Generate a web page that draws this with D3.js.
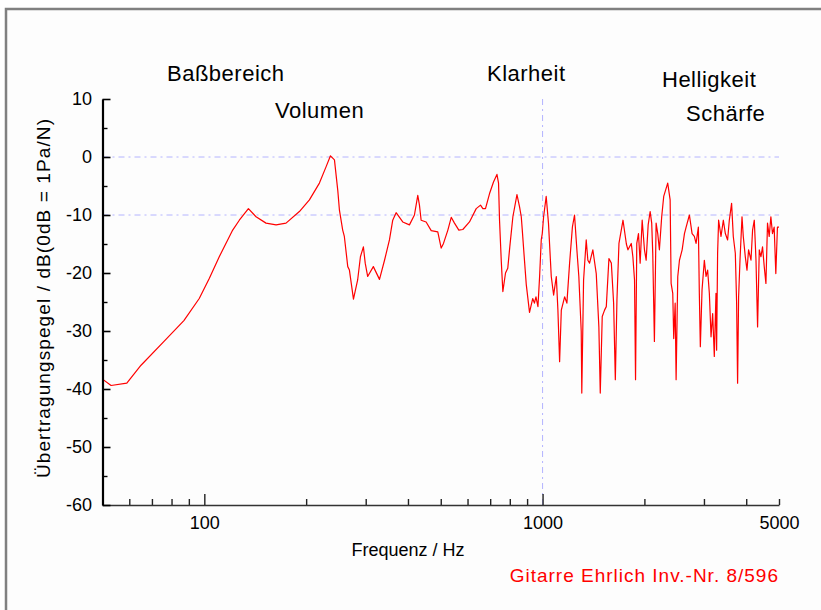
<!DOCTYPE html>
<html>
<head>
<meta charset="utf-8">
<script src="https://cdn.jsdelivr.net/npm/d3@7"></script>
<style>
	html,body{margin:0;background:#fff;overflow:hidden}
	svg{display:block}
	svg text{font-family:"Liberation Sans",Arial,Helvetica,sans-serif;fill:#000}
</style>
</head>
<body>
<div id="chart"></div>
<script>
// frequency response (Hz / dB)
var freqs = [
	50,53,59,65,76,87,96.6,103.5,110.7,121.3,
	126.9,135,142.2,152.2,163,174.4,191,204.5,218.9,229,
	236,242.5,248,250.8,256.5,259.4,265.5,268.5,276,284,
	289.4,295.3,299,304,316,329.5,341,352.6,360.6,369,
	386,404,418,427.6,432.5,437.5,452.6,468.6,490,501.5,
	509.4,524.8,537,549,565.5,581,608,636.5,655.5,666,
	678,697,716,733,741,746,755,763,777,789,
	800,817,840,855,865,871,882,895,915,935,
	946,956,969,980,991,998,1007,1025,1041,1061,
	1078,1098,1110,1123,1136,1162,1180,1202,1225,1243,
	1263,1280,1301,1306,1322,1346,1361,1377,1408,1441,
	1467,1481,1501,1525,1543,1571,1597,1622,1641,1659,
	1682,1729,1769,1788,1829,1849,1870,1883,1899,1921,
	1943,1970,2001,2024,2052,2080,2102,2117,2141,2166,
	2190,2215,2250,2281,2344,2383,2399,2426,2442,2466,
	2482,2510,2539,2586,2627,2657,2717,2767,2810,2843,
	2888,2907,2927,2961,3008,3043,3076,3112,3148,3183,
	3219,3256,3270,3292,3315,3369,3423,3470,3524,3565,
	3621,3663,3714,3747,3772,3798,3834,3887,3921,3975,
	4021,4065,4132,4177,4226,4275,4322,4372,4422,4470,
	4522,4574,4624,4677,4731,4783,4838,4893,4947,5000
]
var levels = [
	-38.3,-39.4,-39.0,-35.9,-31.8,-28.2,-24.4,-20.9,-17.2,-12.6,
	-10.9,-8.9,-10.3,-11.4,-11.7,-11.4,-9.4,-7.4,-4.5,-1.7,
	0.2,-0.5,-5.7,-9.1,-12.6,-13.7,-18.9,-19.5,-24.5,-21.2,
	-17.2,-15.5,-18.3,-20.6,-18.9,-21.1,-17.8,-14.3,-10.9,-9.6,
	-11.2,-11.7,-10.0,-6.6,-8.3,-10.9,-11.2,-12.7,-12.9,-15.7,
	-14.9,-12.6,-10.4,-11.4,-12.6,-12.5,-11.2,-8.9,-8.3,-8.9,
	-8.9,-6.3,-4.3,-3.0,-4.5,-10.9,-18.0,-23.2,-20.0,-19.2,
	-15.5,-10.3,-6.5,-8.6,-10.3,-12.6,-17.0,-22.0,-26.8,-24.4,
	-25.2,-24.1,-25.8,-20.6,-14.3,-13.2,-10.3,-6.8,-11.4,-20.6,
	-23.8,-20.6,-26.4,-35.3,-26.4,-24.1,-25.2,-18.3,-12.1,-10.0,
	-16.0,-20.6,-30.1,-40.7,-21.2,-14.3,-17.8,-18.3,-16.0,-20.1,
	-29.3,-40.7,-27.5,-26.4,-25.8,-17.5,-18.3,-25.2,-38.4,-24.7,
	-14.9,-10.9,-15.0,-16.0,-14.9,-17.2,-21.2,-38.4,-14.9,-13.2,
	-18.3,-10.9,-16.0,-17.8,-11.7,-9.4,-11.4,-16.6,-31.8,-11.4,
	-13.2,-16.0,-10.3,-6.8,-4.5,-7.4,-21.8,-23.5,-31.3,-25.2,
	-38.4,-20.6,-17.8,-16.0,-13.2,-12.1,-10.0,-13.2,-13.7,-14.9,
	-12.1,-23.5,-32.7,-22.9,-17.8,-20.6,-19.5,-23.5,-31.0,-27.0,
	-34.4,-23.5,-33.3,-16.6,-10.9,-13.7,-10.9,-13.2,-14.3,-10.9,
	-8.0,-13.7,-16.6,-25.2,-39.0,-24.1,-17.8,-10.3,-13.7,-17.2,
	-19.5,-16.0,-17.8,-12.6,-10.9,-17.8,-29.3,-16.0,-17.2,-15.5,
	-18.9,-21.8,-11.4,-13.7,-10.3,-13.2,-12.1,-20.1,-12.1,-12.1
]

var yTicks = [10,0,-10,-20,-30,-40,-50,-60]
var yMinorTicks = [5,-5,-15,-25,-35,-45,-55]
var xLabelTicks = [100,1000,5000]
var xMinorTicks = [60,70,80,90,200,300,400,500,600,700,800,900,2000,3000,4000]
var gridLevels = [0,-10]
var gridFreqs = [1000]
var regionNames = ["Baßbereich","Volumen","Klarheit","Helligkeit","Schärfe"]
var xTitle = "Frequenz / Hz"
var yTitle = "Übertragungspegel / dB(0dB = 1Pa/N)"
var caption = "Gitarre Ehrlich Inv.-Nr. 8/596"

var W = 821, H = 610
var plot = {left:102.5, right:779, top:99, bottom:505}

var svg = d3.select("#chart").append("svg")
	.attr("width",W)
	.attr("height",H)

// grey frame: only top and left edges fall inside the picture
svg.append("rect")
	.attr("x",6).attr("y",9)
	.attr("width",W).attr("height",H)
	.attr("fill","#fdfdfd")
svg.append("path")
	.attr("d","M6,"+H+"V9H"+W)
	.attr("fill","none")
	.attr("stroke","#808080")
	.attr("stroke-width",2.5)

var x = d3.scaleLog().domain([50,5000]).range([plot.left,plot.right])
var y = d3.scaleLinear().domain([-60,10]).range([plot.bottom,plot.top])

// dashed grid
svg.selectAll(".hgrid").data(gridLevels).enter().append("line")
	.attr("class","hgrid")
	.attr("x1",plot.left).attr("x2",plot.right)
	.attr("y1",d=>y(d)).attr("y2",d=>y(d))
svg.selectAll(".vgrid").data(gridFreqs).enter().append("line")
	.attr("class","vgrid")
	.attr("x1",d=>x(d)).attr("x2",d=>x(d))
	.attr("y1",plot.top).attr("y2",plot.bottom)
svg.selectAll(".hgrid,.vgrid")
	.attr("stroke","#b4b4ff")
	.attr("stroke-width",1)
	.attr("stroke-dasharray","6,4,2,4")

// curve
var points = freqs.map((f,i)=>({f:f,v:levels[i]}))
var line = d3.line().x(d=>x(d.f)).y(d=>y(d.v))
svg.append("path")
	.datum(points)
	.attr("d",line)
	.attr("fill","none")
	.attr("stroke","#ff0000")
	.attr("stroke-width",1.2)
	.attr("stroke-linejoin","round")

var plain = d=>String(d)

// x axis
var xMinor = svg.append("g")
	.attr("transform","translate(0,"+plot.bottom+")")
	.call(d3.axisBottom(x).tickValues(xMinorTicks).tickSize(-6).tickFormat(""))
xMinor.select(".domain").remove()

var xAxis = svg.append("g")
	.attr("transform","translate(0,"+plot.bottom+")")
	.call(d3.axisBottom(x).tickValues(xLabelTicks).tickSizeInner(-11).tickSizeOuter(0).tickPadding(11).tickFormat(plain))
xAxis.selectAll(".tick line").filter(d=>d==5000).attr("y2",-6)
xAxis.select(".domain").attr("stroke","#333").attr("stroke-width",1.6)
svg.selectAll(".tick line").attr("stroke","#222").attr("stroke-width",1.4)
xAxis.selectAll("text").style("font-size","18px")

// y axis
var yMinor = svg.append("g")
	.attr("transform","translate("+plot.left+",0)")
	.call(d3.axisLeft(y).tickValues(yMinorTicks).tickSize(-5).tickFormat(""))
yMinor.select(".domain").remove()
yMinor.selectAll(".tick line").attr("stroke","#000").attr("stroke-width",1.4)

var yAxis = svg.append("g")
	.attr("transform","translate("+plot.left+",0)")
	.call(d3.axisLeft(y).tickValues(yTicks).tickSizeInner(-8).tickSizeOuter(0).tickPadding(10.5).tickFormat(plain))
yAxis.select(".domain").attr("stroke","#000").attr("stroke-width",2.2)
yAxis.selectAll(".tick line").attr("stroke","#000").attr("stroke-width",1.6)
yAxis.selectAll("text").style("font-size","18px")

svg.selectAll(".tick text").attr("fill","#000")

// titles
svg.append("text")
	.attr("x",408).attr("y",556)
	.attr("text-anchor","middle")
	.style("font-size","18px")
	.text(xTitle)

svg.append("text")
	.attr("transform","translate(50,298) rotate(-90)")
	.attr("text-anchor","middle")
	.style("font-size","19px")
	.style("letter-spacing","1.1px")
	.text(yTitle)

svg.append("text")
	.attr("x",779).attr("y",582)
	.attr("text-anchor","end")
	.style("font-size","19px")
	.style("letter-spacing","1px")
	.style("fill","#ff0000")
	.text(caption)

// region labels above the plot
var labelPos = [[167,81],[275,118],[487,81],[662,87],[686,121]]
svg.selectAll(".region").data(regionNames).enter().append("text")
	.attr("class","region")
	.attr("x",(d,i)=>labelPos[i][0])
	.attr("y",(d,i)=>labelPos[i][1])
	.style("font-size","22px")
	.style("letter-spacing","0.5px")
	.text(d=>d)
</script>
</body>
</html>
